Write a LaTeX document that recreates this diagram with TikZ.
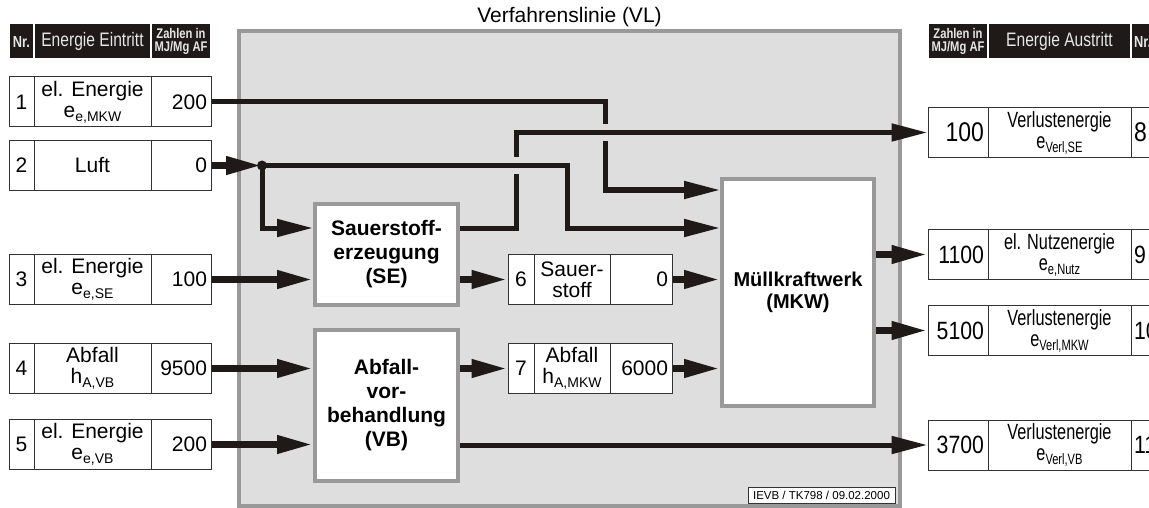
\documentclass[tikz,border=0pt]{standalone}
\usepackage{fontspec}
\setmainfont{Liberation Sans}
\newfontfamily\hnarrow[FakeStretch=0.80]{Liberation Sans}
\newfontfamily\rnarrow[FakeStretch=0.74]{Liberation Sans}
\newfontfamily\nnarrow[FakeStretch=0.85]{Liberation Sans}
\usetikzlibrary{arrows.meta,calc}
\definecolor{panelfill}{HTML}{DEDEDE}
\definecolor{panelline}{HTML}{999999}
\definecolor{ink}{HTML}{1F1A17}
\definecolor{cellline}{HTML}{333333}
\definecolor{hdrtext}{HTML}{E6E6E6}
\newcommand\lsub[1]{\raisebox{-4pt}{\fontsize{14}{14}\selectfont #1}}
\newcommand\rsub[1]{\raisebox{-4pt}{\fontsize{15}{15}\selectfont #1}}
\newcommand\lfs{\fontsize{21}{21}\selectfont}
\newcommand\rfs{\rnarrow\fontsize{22}{21}\selectfont}
\newcommand\rnum{\nnarrow\fontsize{25}{25}\selectfont}
\begin{document}
\begin{tikzpicture}[x=1pt,y=-1pt,
  cell/.style={draw=cellline, line width=1pt, fill=white, minimum height=50pt, inner sep=0pt, align=center, font=\lfs},
  valcell/.style={cell, text width=#1, inner xsep=4pt, align=right},
  rcell/.style={cell, font=\rfs},
  rval/.style={cell, text width=52pt, inner xsep=4pt, align=right, font=\rnum},
  rnr/.style={cell, text width=28pt, inner xsep=3pt, align=left, font=\rnum},
  hdr/.style={fill=ink, draw=white, line width=1pt, text=hdrtext, minimum height=35pt, inner sep=0pt, align=center},
  proc/.style={draw=panelline, line width=4pt, fill=white, inner sep=0pt, align=center, font=\bfseries\fontsize{21}{24}\selectfont},
  flow/.style={draw=ink, line width=5pt, -{Triangle[length=36pt,width=17pt]}},
  stub/.style={draw=ink, line width=7pt, -{Triangle[length=36pt,width=17pt]}},
  gap/.style={fill=panelfill, draw=none}
]
\useasboundingbox (0,0) rectangle (1149,508);

% panel
\node[draw=panelline, line width=4pt, fill=panelfill, minimum width=661pt, minimum height=475pt, inner sep=0pt] (panel) at (569.5,268.5) {};
\node[font=\fontsize{21}{21}\selectfont, inner sep=0pt] (title) at (569.5,17) {Verfahrenslinie (VL)};
\node[draw=cellline, line width=0.8pt, fill=white, minimum width=147pt, minimum height=16pt, inner sep=0pt, font=\fontsize{11.5}{11.5}\selectfont] (stamp) at (821.5,495) {IEVB / TK798 / 09.02.2000};

% left headers
\node[hdr, minimum width=24pt, font=\hnarrow\bfseries\fontsize{16}{16}\selectfont] (hl1) at (21.5,41.5) {Nr.};
\node[hdr, minimum width=116pt, font=\hnarrow\fontsize{19.5}{19.5}\selectfont] (hl2) at (92.5,41.5) {Energie Eintritt};
\node[hdr, minimum width=59pt, font=\hnarrow\bfseries\fontsize{14}{13}\selectfont] (hl3) at (181,41.5) {Zahlen in\\MJ/Mg AF};

% right headers
\node[hdr, minimum width=59pt, font=\hnarrow\bfseries\fontsize{14}{13}\selectfont] (hr1) at (958,41.5) {Zahlen in\\MJ/Mg AF};
\node[hdr, minimum width=142pt, font=\hnarrow\fontsize{19.5}{19.5}\selectfont] (hr2) at (1059.5,41.5) {Energie Austritt};
\node[hdr, minimum width=34pt, text width=28pt, inner xsep=3pt, align=left, font=\hnarrow\bfseries\fontsize{16}{16}\selectfont] (hr3) at (1148,41.5) {Nr.};

% left boxes
\foreach \i/\y/\t/\v in {1/102/{el. Energie\\e\lsub{e,MKW}}/200,
                         2/165.5/{Luft}/0,
                         3/279.5/{el. Energie\\e\lsub{e,SE}}/100,
                         4/368.5/{Abfall\\h\lsub{A,VB}}/9500,
                         5/444.5/{el. Energie\\e\lsub{e,VB}}/200}{
  \node[cell, minimum width=25pt] (n\i) at (21.5,\y) {\i};
  \node[cell, minimum width=117pt] (t\i) at (92.5,\y) {\t};
  \node[valcell=52pt] (v\i) at (181,\y) {\v};
}

% inner boxes 6 and 7
\node[cell, minimum width=26pt] (m6n) at (521,279.5) {6};
\node[cell, minimum width=76pt, font=\fontsize{21}{21}\selectfont] (m6t) at (572,279.5) {Sauer-\\stoff};
\node[valcell=54pt] (m6v) at (641,279.5) {0};
\node[cell, minimum width=26pt] (m7n) at (521,368.5) {7};
\node[cell, minimum width=76pt] (m7t) at (572,368.5) {Abfall\\h\lsub{A,MKW}};
\node[valcell=54pt] (m7v) at (641,368.5) {6000};

% right boxes
\node[rval, font=\nnarrow\fontsize{27}{27}\selectfont] (r8v) at (958,132.5) {100};
\node[rcell, minimum width=143pt] (r8t) at (1059.5,132.5) {Verlustenergie\\e\rsub{Verl,SE}};
\node[rnr, font=\nnarrow\fontsize{27}{27}\selectfont] (r8n) at (1148,132.5) {8};
\node[rval] (r9v) at (958,254.5) {1100};
\node[rcell, minimum width=143pt] (r9t) at (1059.5,254.5) {el. Nutzenergie\\e\rsub{e,Nutz}};
\node[rnr] (r9n) at (1148,254.5) {9};
\node[rval] (r10v) at (958,330.5) {5100};
\node[rcell, minimum width=143pt] (r10t) at (1059.5,330.5) {Verlustenergie\\e\rsub{Verl,MKW}};
\node[rnr] (r10n) at (1148,330.5) {10};
\node[rval] (r11v) at (958,445) {3700};
\node[rcell, minimum width=143pt] (r11t) at (1059.5,445) {Verlustenergie\\e\rsub{Verl,VB}};
\node[rnr] (r11n) at (1148,445) {11};

% process boxes
\node[proc, minimum width=143pt, minimum height=101pt] (SE) at (386.5,254.5) {Sauerstoff-\\erzeugung\\(SE)};
\node[proc, minimum width=143pt, minimum height=151pt] (VB) at (386.5,405.5) {Abfall-\\vor-\\behandlung\\(VB)};
\node[proc, minimum width=152pt, minimum height=227pt, font=\bfseries\fontsize{20}{22}\selectfont] (MKW) at (798,292.5) {M\"ullkraftwerk\\(MKW)};

% routing coordinates
\coordinate (k1) at (605,190);
\coordinate (junc) at (262,165.5);
\coordinate (a1) at (567,228);
\coordinate (s1) at (516,132.5);

% line 1 to MKW
\draw[flow] (v1.east) -| (k1) -- (MKW.west |- k1);
% gap on line 1 where SE output crosses
\fill[gap] (601,124) rectangle (609,141);
% SE output to box 8
\draw[flow] (SE.east |- a1) -| (s1) -- (r8v.west);
% gap on SE output where air line crosses
\fill[gap] (512,157) rectangle (520,174);
% air
\draw[stub] (v2.east) -- (junc);
\draw[flow] (junc) -| (a1) -- (MKW.west |- a1);
\draw[flow] (junc) |- (SE.west |- a1);
\fill[ink] (junc) circle (5pt);

% stubs
\draw[stub] (v3.east) -- (SE.west |- v3.east);
\draw[stub] (v4.east) -- (VB.west |- v4.east);
\draw[stub] (v5.east) -- (VB.west |- v5.east);
\draw[stub] (SE.east |- m6n.west) -- (m6n.west);
\draw[stub] (VB.east |- m7n.west) -- (m7n.west);
\draw[stub] (m6v.east) -- (MKW.west |- m6v.east);
\draw[stub] (m7v.east) -- (MKW.west |- m7v.east);
\draw[stub] (MKW.east |- r9v.west) -- (r9v.west);
\draw[stub] (MKW.east |- r10v.west) -- (r10v.west);
\draw[flow] (VB.east |- r11v.west) -- (r11v.west);
\end{tikzpicture}
\end{document}
